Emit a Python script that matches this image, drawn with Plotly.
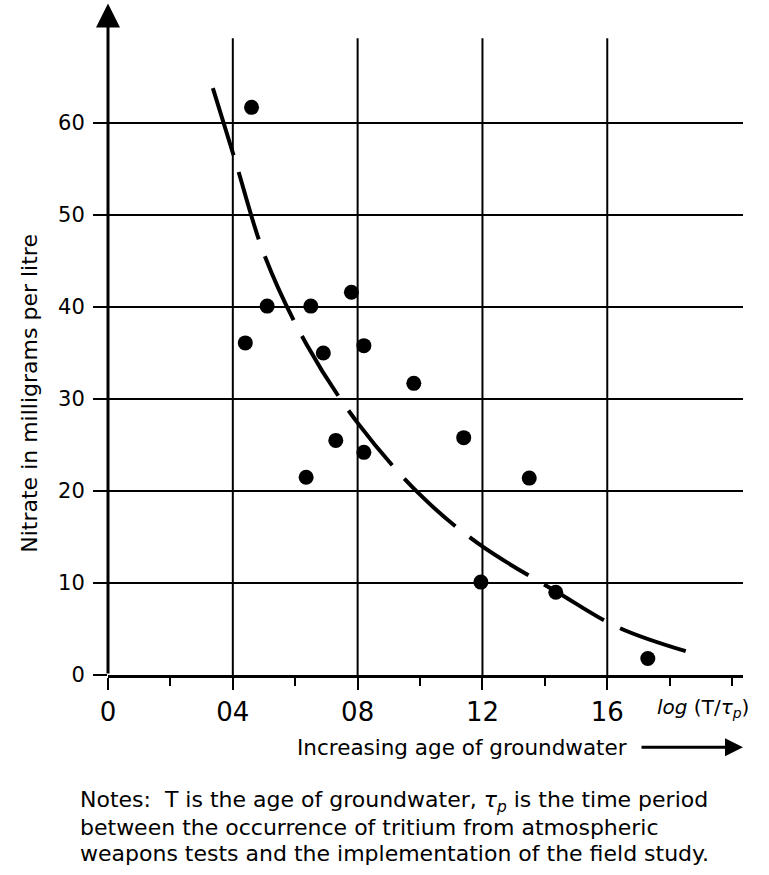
import plotly.graph_objects as go

# Observed data points: log(T/tau_p) vs nitrate (mg/l)
x_pts = [0.46, 0.44, 0.51, 0.65, 0.78, 0.69, 0.82, 0.635, 0.73, 0.82, 0.98, 1.14, 1.35, 1.195, 1.435, 1.73]
y_pts = [61.7, 36.1, 40.1, 40.1, 41.6, 35.0, 35.8, 21.5, 25.5, 24.2, 31.7, 25.8, 21.4, 10.1, 9.0, 1.8]

# Fitted dashed curve
x_curve = [0.336, 0.407, 0.503, 0.637, 0.80, 1.0, 1.186, 1.44, 1.64, 1.90]
y_curve = [63.8, 56.0, 45.5, 35.9, 27.4, 19.6, 14.3, 9.0, 5.1, 2.1]

x_tickvals = [0, 0.4, 0.8, 1.2, 1.6]
x_ticktext = ["0", "04", "08", "12", "16"]
x_grid = [0.4, 0.8, 1.2, 1.6]
y_tickvals = [0, 10, 20, 30, 40, 50, 60]

FONT = "DejaVu Sans"

fig = go.Figure()
fig.add_trace(go.Scatter(x=x_curve, y=y_curve, mode="lines", line_shape="spline",
                         line=dict(color="black", width=4, dash="70px,18px"),
                         hoverinfo="skip", showlegend=False))
fig.add_trace(go.Scatter(x=x_pts, y=y_pts, mode="markers",
                         marker=dict(color="black", size=15), showlegend=False))

for gx in x_grid:
    fig.add_shape(type="line", xref="x", yref="y", x0=gx, x1=gx, y0=0, y1=69.2,
                  line=dict(color="black", width=2), layer="below")

# y axis with arrow
fig.add_annotation(x=0, y=73.0, ax=0, ay=0, xref="x", yref="y", axref="x", ayref="y",
                   text="", showarrow=True, arrowhead=2, arrowsize=1.6, arrowwidth=3,
                   arrowcolor="black")

fig.add_annotation(x=-0.123, y=0.418, xref="paper", yref="paper", text="Nitrate in milligrams per litre",
                   textangle=-90, showarrow=False, font=dict(family=FONT, size=22, color="black"),
                   xanchor="center", yanchor="middle")
fig.add_annotation(x=0.937, y=-0.049, xref="paper", yref="paper",
                   text="<i>log</i> (T/<i>τ<sub>p</sub></i>)", showarrow=False,
                   font=dict(family=FONT, size=20, color="black"), xanchor="center", yanchor="middle")
fig.add_annotation(x=0.294, y=-0.107, xref="paper", yref="paper",
                   text="Increasing age of groundwater", showarrow=False,
                   font=dict(family=FONT, size=21.5, color="black"), xanchor="left", yanchor="middle")
fig.add_annotation(x=1.0, y=-0.107, xref="paper", yref="paper", ax=-103, ay=0, text="",
                   showarrow=True, arrowhead=2, arrowsize=1.2, arrowwidth=3, arrowcolor="black")

notes = ["Notes:  T is the age of groundwater, <i>τ<sub>p</sub></i> is the time period",
         "between the occurrence of tritium from atmospheric",
         "weapons tests and the implementation of the field study."]
for i, line in enumerate(notes):
    fig.add_annotation(x=-0.047, y=-0.187 - 0.0385 * i, xref="paper", yref="paper", text=line,
                       showarrow=False, font=dict(family=FONT, size=22, color="black"),
                       xanchor="left", yanchor="middle")

fig.update_xaxes(range=[0, 2.035], tickvals=x_tickvals, ticktext=x_ticktext,
                 showgrid=False, zeroline=False, showline=True, linecolor="black", linewidth=3,
                 ticks="outside", ticklen=12, tickwidth=2, tickcolor="black",
                 minor=dict(dtick=0.2, tick0=0, ticks="outside", ticklen=8, tickwidth=2, tickcolor="black", showgrid=False),
                 tickfont=dict(family=FONT, size=26, color="black"))
fig.update_yaxes(range=[0, 73.37], tickvals=y_tickvals, showgrid=True, gridcolor="black", gridwidth=2,
                 zeroline=False, showline=False,
                 ticks="outside", ticklen=14, tickwidth=2, tickcolor="black", ticklabelstandoff=4,
                 tickfont=dict(family=FONT, size=21, color="black"))

fig.update_layout(width=769, height=875, margin=dict(l=108, r=26, t=0, b=200),
                  plot_bgcolor="white", paper_bgcolor="white")

fig.write_html("out.html")
